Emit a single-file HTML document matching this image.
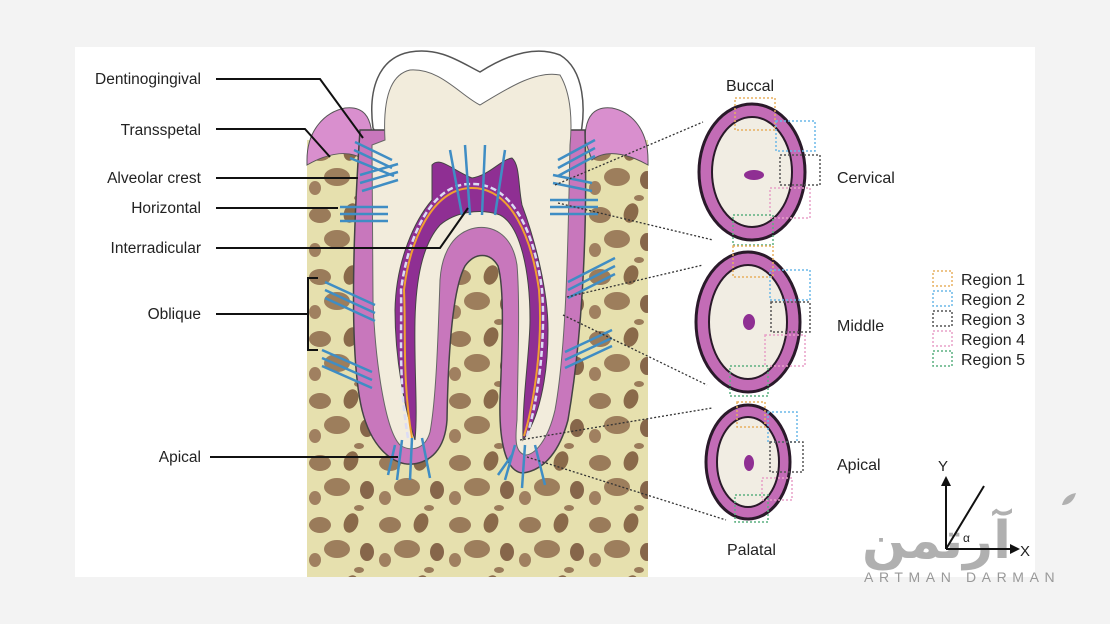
<!DOCTYPE html>
<html><head><meta charset="utf-8"><style>
html,body{margin:0;padding:0;background:#f3f3f3;}
svg{display:block;font-family:"Liberation Sans",Arial,sans-serif;}
</style></head><body>
<svg width="1110" height="624" viewBox="0 0 1110 624" xmlns="http://www.w3.org/2000/svg">
<defs>
<pattern id="bone" x="307" y="140" width="70" height="62" patternUnits="userSpaceOnUse">
<rect width="70" height="62" fill="#e6e0ae"/>
<ellipse cx="13" cy="13" rx="11" ry="8" fill="#9a7b5a"/>
<ellipse cx="44" cy="11" rx="7" ry="10" fill="#8a6a4a" transform="rotate(20 44 11)"/>
<ellipse cx="30" cy="37" rx="13" ry="9" fill="#9d7e5c"/>
<ellipse cx="60" cy="40" rx="7" ry="9" fill="#86664a"/>
<ellipse cx="8" cy="48" rx="6" ry="7" fill="#a08060"/>
<ellipse cx="52" cy="58" rx="5" ry="3" fill="#9a7b5a"/>
</pattern>
</defs>
<rect x="75" y="47" width="960" height="530" fill="#fff"/>
<rect x="307" y="140" width="341" height="437" fill="url(#bone)"/>
<!-- gums -->
<path d="M307,160 C307,130 325,112 345,108 C362,106 372,115 372,140 L365,160 C350,150 330,152 307,165 Z" fill="#d98fce" stroke="#555" stroke-width="1"/>
<path d="M648,160 C648,130 632,112 612,108 C595,106 585,115 585,140 L592,160 C605,150 625,152 648,165 Z" fill="#d98fce" stroke="#555" stroke-width="1"/>
<!-- crown enamel -->
<path d="M373,128 C368,90 378,58 410,52 C440,47 460,62 480,72 C502,58 532,44 560,55 C585,70 586,110 580,138 L560,160 L392,160 Z" fill="#fff" stroke="#555" stroke-width="1.5"/>
<!-- cementum / PDL -->
<path d="M360,130 C352,250 350,360 362,410 C372,450 395,466 413,464 C430,462 445,450 447,420 C448,360 452,290 465,266 C475,252 490,252 498,266 C505,290 502,350 500,400 C499,440 505,472 523,473 C545,470 560,450 568,420 C580,350 588,250 585,130 Z" fill="#c877bc" stroke="#444" stroke-width="1.5"/>
<!-- dentin -->
<path d="M385,140 C383,105 388,75 410,70 C440,68 460,95 480,105 C505,90 535,70 560,75 C572,95 572,125 570,145 C568,250 566,350 555,410 C548,440 535,455 525,455 C515,452 515,440 517,420 C518,360 520,300 517,265 C512,232 490,225 475,228 C455,232 442,250 440,280 C438,340 436,400 430,432 C425,450 410,452 400,445 C385,430 375,360 373,300 C372,220 372,170 372,145 Z" fill="#f2ecdc" stroke="#666" stroke-width="1"/>
<!-- pulp -->
<path d="M432,165 C440,156 452,170 472,178 C490,175 500,160 512,158 C520,165 518,185 522,205 C535,240 548,290 548,330 C548,380 538,420 523,440 C522,400 530,350 530,320 C530,270 520,225 500,215 C480,208 455,212 440,225 C422,245 416,280 415,320 C414,370 418,410 415,440 C405,410 395,360 395,310 C396,260 415,220 432,200 Z" fill="#8f2f93" stroke="#444" stroke-width="1"/>
<path d="M412,438 C402,380 406,330 404,290 C410,240 432,190 470,188 C512,186 532,240 539,290 C543,340 535,400 524,436" fill="none" stroke="#f0a030" stroke-width="2"/>
<path d="M408,438 C398,380 402,330 401,290 C408,236 432,184 470,184 C514,182 535,236 542,290 C546,340 538,400 527,436" fill="none" stroke="#dcdcf5" stroke-width="2.5" stroke-dasharray="6,3"/>
<!-- fibers -->
<g stroke="#3f8dc4" stroke-width="2.5" fill="none">
<path d="M355,142 L392,160 M354,150 L392,168 M350,158 L394,176"/>
<path d="M360,175 L398,164 M360,183 L398,172 M362,191 L398,180"/>
<path d="M340,207 L388,207 M340,214 L388,214 M340,221 L388,221"/>
<path d="M325,282 L375,305 M325,290 L375,313 M325,298 L375,321"/>
<path d="M322,350 L372,372 M322,358 L372,380 M322,366 L372,388"/>
<path d="M595,140 L558,160 M595,148 L558,168 M595,156 L558,176"/>
<path d="M553,175 L592,183 M553,183 L592,191"/>
<path d="M550,200 L598,200 M550,207 L598,207 M550,214 L598,214"/>
<path d="M615,258 L568,282 M615,266 L568,290 M615,274 L568,298"/>
<path d="M612,330 L565,352 M612,338 L565,360 M612,346 L565,368"/>
<path d="M450,150 L462,215 M465,145 L470,215 M485,145 L482,215 M505,150 L495,215"/>
<path d="M402,440 L397,480 M412,438 L410,480 M422,438 L430,478 M395,445 L388,475"/>
<path d="M515,445 L505,480 M525,445 L522,488 M535,445 L545,485 M512,455 L498,475"/>
</g>
<!-- left labels -->
<g font-size="15.5" fill="#222" text-anchor="end">
<text x="201" y="84">Dentinogingival</text>
<text x="201" y="135">Transspetal</text>
<text x="201" y="183">Alveolar crest</text>
<text x="201" y="213">Horizontal</text>
<text x="201" y="253">Interradicular</text>
<text x="201" y="319">Oblique</text>
<text x="201" y="462">Apical</text>
</g>
<g stroke="#111" stroke-width="2" fill="none">
<path d="M216,79 L320,79 L363,138"/>
<path d="M216,129 L305,129 L330,157"/>
<path d="M216,178 L358,178"/>
<path d="M216,208 L338,208"/>
<path d="M216,248 L440,248 L468,208"/>
<path d="M216,314 L308,314 M318,278 L308,278 L308,350 L318,350"/>
<path d="M210,457 L398,457"/>
</g>
<!-- dotted connectors -->
<g stroke="#333" stroke-width="1.3" stroke-dasharray="2,2" fill="none">
<path d="M555,185 L703,122 M558,203 L713,240 M567,297 L703,265 M563,315 L707,385 M520,440 L712,408 M527,457 L726,520"/>
</g>
<!-- rings -->
<g stroke="#2a1a2a">
<ellipse cx="752" cy="172" rx="53" ry="68" fill="#c36cb6" stroke-width="3"/>
<ellipse cx="752" cy="172" rx="40" ry="55" fill="#f1ede3" stroke-width="2"/>
<ellipse cx="754" cy="175" rx="10" ry="5" fill="#8f2f93" stroke="none"/>
<ellipse cx="748" cy="322" rx="52" ry="70" fill="#c36cb6" stroke-width="3"/>
<ellipse cx="748" cy="322" rx="39" ry="57" fill="#f1ede3" stroke-width="2"/>
<ellipse cx="749" cy="322" rx="6" ry="8" fill="#8f2f93" stroke="none"/>
<ellipse cx="748" cy="462" rx="42" ry="57" fill="#c36cb6" stroke-width="3"/>
<ellipse cx="748" cy="462" rx="31" ry="45" fill="#f1ede3" stroke-width="2"/>
<ellipse cx="749" cy="463" rx="5" ry="8" fill="#8f2f93" stroke="none"/>
</g>
<g fill="none" stroke-width="1.5" stroke-dasharray="2,2">
<rect x="735" y="98" width="40" height="32" stroke="#e8b060"/>
<rect x="776" y="121" width="39" height="30" stroke="#6cb8e8"/>
<rect x="780" y="155" width="40" height="30" stroke="#555"/>
<rect x="770" y="188" width="40" height="30" stroke="#e8a0c8"/>
<rect x="733" y="215" width="40" height="30" stroke="#5cb080"/>
<rect x="733" y="246" width="40" height="31" stroke="#e8b060"/>
<rect x="770" y="270" width="40" height="30" stroke="#6cb8e8"/>
<rect x="771" y="302" width="39" height="30" stroke="#555"/>
<rect x="765" y="335" width="40" height="31" stroke="#e8a0c8"/>
<rect x="730" y="366" width="38" height="30" stroke="#5cb080"/>
<rect x="737" y="402" width="28" height="25" stroke="#e8b060"/>
<rect x="768" y="412" width="29" height="30" stroke="#6cb8e8"/>
<rect x="770" y="442" width="33" height="30" stroke="#555"/>
<rect x="762" y="478" width="30" height="22" stroke="#e8a0c8"/>
<rect x="735" y="495" width="33" height="27" stroke="#5cb080"/>
<rect x="933" y="271" width="19" height="15" stroke="#e8b060"/>
<rect x="933" y="291" width="19" height="15" stroke="#6cb8e8"/>
<rect x="933" y="311" width="19" height="15" stroke="#555"/>
<rect x="933" y="331" width="19" height="15" stroke="#e8a0c8"/>
<rect x="933" y="351" width="19" height="15" stroke="#5cb080"/>
</g>
<g font-size="16" fill="#222">
<text x="726" y="91">Buccal</text>
<text x="837" y="183">Cervical</text>
<text x="837" y="331">Middle</text>
<text x="837" y="470">Apical</text>
<text x="727" y="555">Palatal</text>
<text x="961" y="285">Region 1</text>
<text x="961" y="305">Region 2</text>
<text x="961" y="325">Region 3</text>
<text x="961" y="345">Region 4</text>
<text x="961" y="365">Region 5</text>
</g>
<!-- watermark -->
<text x="862" y="558" font-family="DejaVu Sans, sans-serif" font-size="52" font-weight="bold" fill="#b0b0b0">آرتمن</text>
<path d="M1062,505 C1064,497 1070,494 1076,493 C1074,500 1070,505 1062,505 Z" fill="#b0b0b0"/>
<text x="864" y="582" font-size="14" fill="#999" letter-spacing="5.6">ARTMAN DARMAN</text>
<!-- axes -->
<g stroke="#111" stroke-width="2" fill="none">
<path d="M946,549 L946,480 M946,549 L1015,549 M946,549 L984,486"/>
</g>
<path d="M946,476 L941,486 L951,486 Z M1020,549 L1010,544 L1010,554 Z" fill="#111"/>
<text x="938" y="471" font-size="15" fill="#222">Y</text>
<text x="1020" y="556" font-size="15" fill="#222">X</text>
<text x="963" y="542" font-size="12" fill="#222">α</text>
</svg>
</body></html>
